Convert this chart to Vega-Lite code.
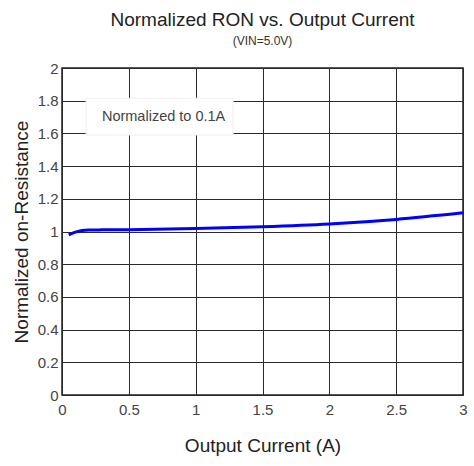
{
  "$schema": "https://vega.github.io/schema/vega-lite/v6.json",
  "width": 401,
  "height": 327,
  "autosize": {"type": "none"},
  "padding": {"left": 62, "top": 68, "right": 11, "bottom": 71},
  "datasets": {
    "curve": [
      {"current": 0.05, "ron": 0.98},
      {"current": 0.1, "ron": 0.996},
      {"current": 0.15, "ron": 1.006},
      {"current": 0.2, "ron": 1.009},
      {"current": 0.3, "ron": 1.01},
      {"current": 0.5, "ron": 1.011},
      {"current": 1.0, "ron": 1.018},
      {"current": 1.5, "ron": 1.029},
      {"current": 2.0, "ron": 1.046},
      {"current": 2.5, "ron": 1.074},
      {"current": 3.0, "ron": 1.114}
    ],
    "note": [
      {"x1": 0.18, "x2": 1.28, "y1": 1.59, "y2": 1.815, "xc": 0.76, "yc": 1.70, "label": "Normalized to 0.1A"}
    ]
  },
  "title": {
    "text": "Normalized RON vs. Output Current",
    "subtitle": "(VIN=5.0V)",
    "anchor": "middle",
    "font": "Liberation Sans",
    "fontSize": 19,
    "fontWeight": "normal",
    "color": "#222222",
    "subtitleFont": "Liberation Sans",
    "subtitleFontSize": 12,
    "subtitleColor": "#333333",
    "subtitlePadding": 6,
    "offset": 14
  },
  "config": {
    "view": {"stroke": "#222222", "strokeWidth": 1.5},
    "axis": {
      "labelFont": "Liberation Sans",
      "labelFontSize": 15,
      "labelColor": "#444444",
      "labelOverlap": false,
      "titleFont": "Liberation Sans",
      "titleFontSize": 19,
      "titleFontWeight": "normal",
      "titleColor": "#222222",
      "ticks": false,
      "domain": false,
      "grid": true,
      "gridColor": "#2a2a2a",
      "gridWidth": 1,
      "gridOpacity": 1
    }
  },
  "layer": [
    {
      "data": {"name": "curve"},
      "mark": {"type": "line", "color": "#0000ff", "strokeWidth": 3, "interpolate": "monotone"},
      "encoding": {
        "x": {"field": "current", "type": "quantitative", "scale": {"domain": [0, 3], "nice": false}, "axis": {"title": "Output Current (A)", "values": [0, 0.5, 1, 1.5, 2, 2.5, 3], "tickCount": 20, "format": "~g", "labelPadding": 7, "titlePadding": 19, "labelFlush": false}},
        "y": {"field": "ron", "type": "quantitative", "scale": {"domain": [0, 2], "nice": false, "zero": true}, "axis": {"title": "Normalized on-Resistance", "values": [0, 0.2, 0.4, 0.6, 0.8, 1, 1.2, 1.4, 1.6, 1.8, 2], "tickCount": 20, "format": "~g", "labelPadding": 4, "titlePadding": 6, "labelFlush": false, "labelOverlap": false}}
      }
    },
    {
      "data": {"name": "note"},
      "mark": {"type": "rect", "fill": "white", "stroke": "#eeeeee", "strokeWidth": 1},
      "encoding": {
        "x": {"field": "x1", "type": "quantitative"},
        "x2": {"field": "x2"},
        "y": {"field": "y1", "type": "quantitative"},
        "y2": {"field": "y2"}
      }
    },
    {
      "data": {"name": "note"},
      "mark": {"type": "text", "font": "Liberation Sans", "fontSize": 14.5, "color": "#444444", "align": "center", "baseline": "middle"},
      "encoding": {
        "x": {"field": "xc", "type": "quantitative"},
        "y": {"field": "yc", "type": "quantitative"},
        "text": {"field": "label"}
      }
    }
  ]
}
